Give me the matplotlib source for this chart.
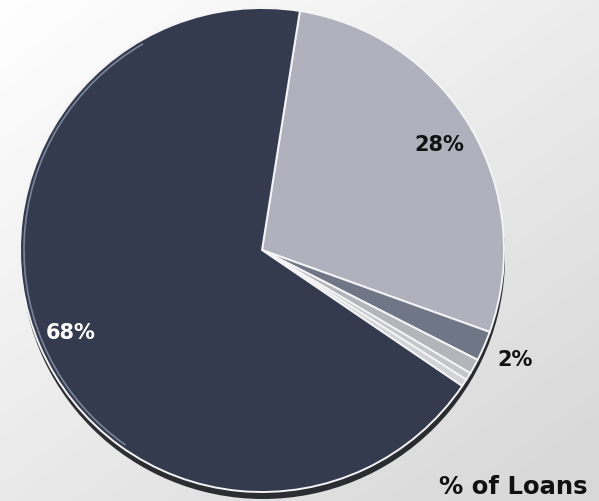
"""Pie chart of loan shares with a soft grey backdrop."""
import matplotlib
matplotlib.use("Agg")
import matplotlib.pyplot as plt
import matplotlib.patches as mpatches
import numpy as np

# slices, clockwise from the top
shares = [28, 2, 1, 0.5, 0.5, 68]
slice_colors = ["#b0b1bd", "#6f7685", "#b3b5bb", "#c3c5c9", "#d2d3d6", "#343b4e"]
pct_labels = ["28%", "2%", "", "", "", "68%"]
label_colors = ["#111111", "#111111", None, None, None, "#ffffff"]
label_weights = ["bold", "bold", None, None, None, "semibold"]
label_dist = [0.85, 1.14, 0, 0, 0, 0.86]

W, H = 599, 501
CX, CY, R = 262, 251, 242

fig = plt.figure(figsize=(W / 100, H / 100), dpi=100)
ax = fig.add_axes([0, 0, 1, 1])

# background gradient: white top-left, fading to light grey
gx, gy = np.meshgrid(np.linspace(0, 1, 300), np.linspace(0, 1, 250))
shade = 1.0 - 0.075 * gx - 0.085 * gy
shade = np.clip(shade, 0.85, 1.0)
ax.imshow(np.dstack([shade] * 3), extent=(0, W, 0, H), origin="upper",
          aspect="auto", zorder=0)

# shadow under the pie
ax.add_patch(mpatches.Circle((CX + 1, CY - 7), R, facecolor="#0b0d12",
                             edgecolor="none", alpha=0.85, zorder=1))

wedges, _ = ax.pie(
    shares,
    colors=slice_colors,
    startangle=81,
    counterclock=False,
    center=(CX, CY),
    radius=R,
    wedgeprops=dict(edgecolor="#f4f4f6", linewidth=1.4, zorder=2),
)

# light bevel on the left rim
ax.add_patch(mpatches.Arc((CX, CY), 2 * R - 8, 2 * R - 8, theta1=120, theta2=235,
                          color="#9aa3b8", linewidth=1.2, alpha=0.7, zorder=3))

for w, txt, col, wt, dist in zip(wedges, pct_labels, label_colors,
                                 label_weights, label_dist):
    if not txt:
        continue
    mid = np.deg2rad((w.theta1 + w.theta2) / 2)
    x = CX + dist * R * np.cos(mid)
    y = CY + dist * R * np.sin(mid)
    ax.text(x, y, txt, color=col, fontsize=15, fontweight=wt,
            family="DejaVu Sans", ha="center", va="center", zorder=4)

ax.text(513, 14, "% of Loans", color="#111111", fontsize=17.5, fontweight="bold",
        family="DejaVu Sans", ha="center", va="center", zorder=4)

ax.set_xlim(0, W)
ax.set_ylim(0, H)
ax.set_aspect("auto")
ax.axis("off")

fig.savefig("out.png", dpi=100)
